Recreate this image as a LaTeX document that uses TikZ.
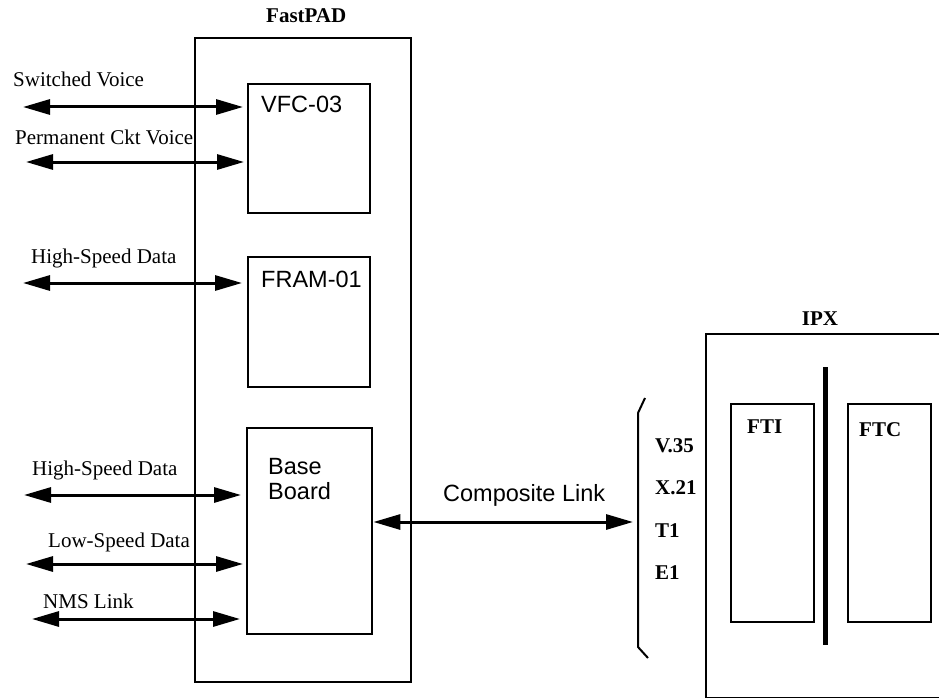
\documentclass[tikz,border=0pt]{standalone}
\usepackage{fontspec}
\setmainfont{Liberation Serif}
\newfontfamily\helv{Liberation Sans}
\usetikzlibrary{arrows.meta}
\begin{document}
\begin{tikzpicture}[x=1pt,y=-1pt,
  box/.style={draw, line width=2.4pt, inner sep=0pt, anchor=north west},
  thinbox/.style={draw, line width=2pt, inner sep=0pt, anchor=north west},
  lab/.style={anchor=base west, inner sep=0pt, font=\fontsize{21}{24}\selectfont},
  blab/.style={anchor=base west, inner sep=0pt, font=\fontsize{21}{24}\selectfont\bfseries},
  slab/.style={anchor=base west, inner sep=0pt, font=\helv\fontsize{23.5}{26}\selectfont},
  link/.style={line width=3pt, {Triangle[length=27pt,width=15pt]}-{Triangle[length=27pt,width=15pt]}},
]
\useasboundingbox (0,0) rectangle (939,698);

% FastPAD
\node[box, minimum width=216pt, minimum height=644pt] (fastpad) at (194,37) {};
\node[blab] (fastpadlab) at (266,23) {FastPAD};
\node[box, minimum width=122pt, minimum height=129pt] (vfc) at (247,83) {};
\node[slab] (vfclab) at (261,113) {VFC-03};
\node[box, minimum width=122pt, minimum height=130pt] (fram) at (247,256) {};
\node[slab] (framlab) at (261,287) {FRAM-01};
\node[box, minimum width=125pt, minimum height=206pt] (base) at (246,427) {};
\node[slab] (baselab1) at (268,474) {Base};
\node[slab] (baselab2) at (268,499) {Board};

% left connectors
\coordinate (sv) at (23,107);
\coordinate (pcv) at (26,162);
\coordinate (hsd1) at (23,283);
\coordinate (hsd2) at (24,495);
\coordinate (lsd) at (26,564);
\coordinate (nms) at (32,619);
\draw[link] (sv) -- ([xshift=-4pt]sv -| vfc.west);
\draw[link] (pcv) -- ([xshift=-3pt]pcv -| vfc.west);
\draw[link] (hsd1) -- ([xshift=-5pt]hsd1 -| fram.west);
\draw[link] (hsd2) -- ([xshift=-5pt]hsd2 -| base.west);
\draw[link] (lsd) -- ([xshift=-3pt]lsd -| base.west);
\draw[link] (nms) -- ([xshift=-6pt]nms -| base.west);

\node[lab] (svlab) at (13,87) {Switched Voice};
\node[lab] (pcvlab) at (15,144) {Permanent Ckt Voice};
\node[lab] (hsd1lab) at (31,263) {High-Speed Data};
\node[lab] (hsd2lab) at (32,475) {High-Speed Data};
\node[lab] (lsdlab) at (48,547) {Low-Speed Data};
\node[lab] (nmslab) at (43,608) {NMS Link};

% composite link
\coordinate (cl) at (633,522);
\draw[link] (cl -| base.east) -- (cl);
\node[slab] (cllab) at (443,501) {Composite Link};

% bracket
\draw[line width=2pt] (645,398) -- (638,413) -- (638,647) -- (648,658);
\node[blab] (v35) at (655,452) {V.35};
\node[blab] (x21) at (655,494) {X.21};
\node[blab] (t1) at (655,537) {T1};
\node[blab] (e1) at (655,579) {E1};

% IPX
\node[thinbox, minimum width=260pt, minimum height=364pt] (ipx) at (705,333) {};
\node[blab, anchor=base] (ipxlab) at (820,325) {IPX};
\node[thinbox, minimum width=83pt, minimum height=218pt] (fti) at (730,403) {};
\node[thinbox, minimum width=83pt, minimum height=218pt] (ftc) at (847,403) {};
\node[blab] (ftilab) at (747,433) {FTI};
\node[blab] (ftclab) at (859,436) {FTC};
\draw[line width=5pt] (825,367) -- (825,645);
\end{tikzpicture}
\end{document}
